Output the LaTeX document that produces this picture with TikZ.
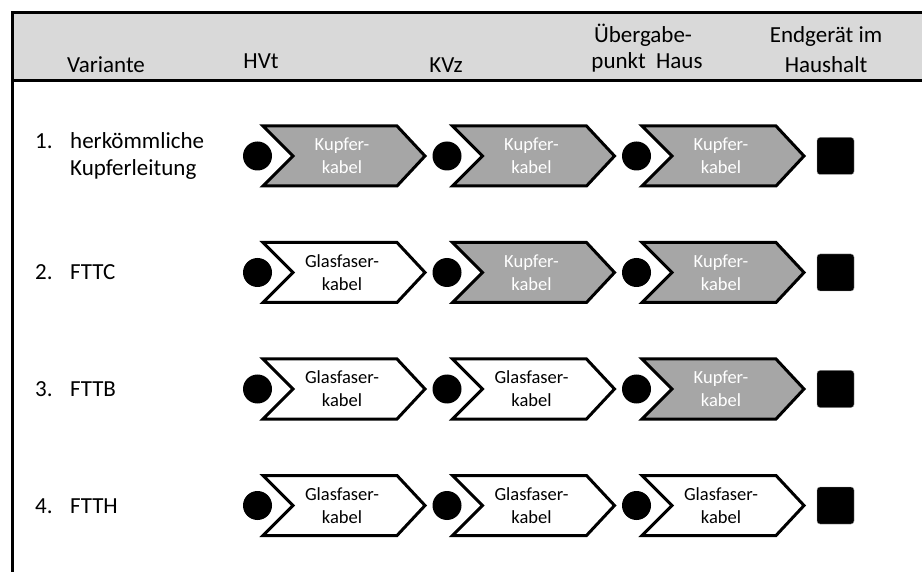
\documentclass[tikz,border=0pt]{standalone}
\usepackage{fontspec}
\setmainfont{Carlito}
\definecolor{hdrgray}{HTML}{D9D9D9}
\definecolor{kgray}{HTML}{A6A6A6}
\begin{document}
\begin{tikzpicture}[x=1pt,y=-1pt,
  frame/.style={line width=3pt},
  chev/.style={draw=black,line width=3pt,line join=miter},
  kupfer/.style={chev,fill=kgray},
  glas/.style={chev,fill=white},
  atext/.style={font=\fontsize{18.5}{23}\selectfont,align=center,inner sep=0pt},
  ktext/.style={atext,text=white},
  gtext/.style={atext,text=black},
  dot/.style={circle,fill=black,inner sep=0pt,minimum size=29pt},
  endsq/.style={rectangle,fill=black,draw=black!40,line width=0.4pt,rounded corners=3pt,inner sep=0pt,minimum size=37pt},
  hdr/.style={font=\fontsize{23}{30}\selectfont,inner sep=0pt,anchor=base},
  lbl/.style={font=\fontsize{23}{27}\selectfont,inner sep=0pt,anchor=base west}]
\useasboundingbox (0,0) rectangle (922,572);
% header band and frame
\fill[hdrgray] (12,12) rectangle (922,81);
\draw[frame] (922,12.5) -- (12.5,12.5) -- (12.5,572);
\draw[frame] (12,81) -- (922,81);
% header texts
\node[hdr] (hVar) at (106,73) {Variante};
\node[hdr] (hHVt) at (261,69) {HVt};
\node[hdr] (hKVz) at (446,73) {KVz};
\node[hdr] (hUe1) at (643,43) {Übergabe-};
\node[hdr] (hUe2) at (647,69) {punkt\ \ Haus};
\node[hdr] (hEnd1) at (826,43) {Endgerät im};
\node[hdr] (hEnd2) at (826,73) {Haushalt};
% row labels
\node[lbl] (n1) at (35,149) {1.};
\node[lbl] (l1a) at (70,149) {herkömmliche};
\node[lbl] (l1b) at (70,176) {Kupferleitung};
\node[lbl] (n2) at (35,280) {2.};
\node[lbl] (l2) at (70,280) {FTTC};
\node[lbl] (n3) at (35,396.5) {3.};
\node[lbl] (l3) at (70,396.5) {FTTB};
\node[lbl] (n4) at (35,513) {4.};
\node[lbl] (l4) at (70,513) {FTTH};
% rows
\foreach \r/\y/\sa/\sb/\sc in {1/156/kupfer/kupfer/kupfer, 2/272.5/glas/kupfer/kupfer, 3/389/glas/glas/kupfer, 4/505.5/glas/glas/glas}{
  \foreach \j/\s in {0/\sa,1/\sb,2/\sc}{
    \pgfmathsetmacro{\xo}{263+189.5*\j}
    \draw[\s] (\xo,\y-30) -- (\xo+134,\y-30) -- (\xo+162,\y) -- (\xo+134,\y+30) -- (\xo,\y+30) -- (\xo+30,\y) -- cycle;
    \node[dot] (d\r\j) at (257.5+189.5*\j,\y) {};
  }
  \node[endsq] (e\r) at (835.5,\y) {};
}
% arrow texts
\foreach \r/\y/\sa/\sb/\sc in {1/156/k/k/k, 2/272.5/g/k/k, 3/389/g/g/k, 4/505.5/g/g/g}{
  \foreach \j/\s in {0/\sa,1/\sb,2/\sc}{
    \if\s k
      \node[ktext] (t\r\j) at (342+189.5*\j,\y) {Kupfer-\\kabel};
    \else
      \node[gtext] (t\r\j) at (342+189.5*\j,\y) {Glasfaser-\\kabel};
    \fi
  }
}
\end{tikzpicture}
\end{document}
